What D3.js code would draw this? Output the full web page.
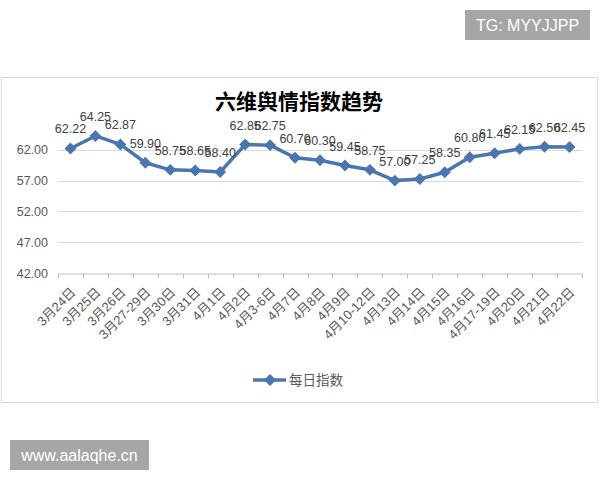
<!DOCTYPE html>
<html>
<head>
<meta charset="utf-8">
<script src="https://cdn.jsdelivr.net/npm/d3@7"></script>
<style>
  body { margin: 0; background: #fff; }
  svg text { font-family: "Liberation Sans", "Noto Sans CJK SC", sans-serif; }
</style>
</head>
<body>
<div id="chart"></div>
<script>
// 六维舆情指数 - daily values
const categories = ["3月24日", "3月25日", "3月26日", "3月27-29日", "3月30日", "3月31日", "4月1日",
    "4月2日", "4月3-6日", "4月7日", "4月8日", "4月9日", "4月10-12日", "4月13日", "4月14日",
    "4月15日", "4月16日", "4月17-19日", "4月20日", "4月21日", "4月22日"];
const values = [62.22, 64.25, 62.87, 59.90, 58.75, 58.65, 58.40, 62.85, 62.75, 60.70, 60.30,
    59.45, 58.75, 57.00, 57.25, 58.35, 60.80, 61.45, 62.15, 62.50, 62.45];
const yTicks = [42, 47, 52, 57, 62];
const seriesName = "每日指数";
const title = "六维舆情指数趋势";

function drawChart() {
    const W = 600, H = 480;
    const blue = "#4a76ae";

    let svg = d3.select("#chart")
        .append("svg")
        .attr("width", W)
        .attr("height", H);

    svg.append("rect").attr("width", W).attr("height", H).attr("fill", "#fff");

    // chart frame
    svg.append("rect")
        .attr("x", 1.5).attr("y", 77.5)
        .attr("width", 596).attr("height", 325)
        .attr("fill", "#fff")
        .attr("stroke", "#d9d9d9");

    let plot = {left: 58, right: 582, top: 119, bottom: 273};

    let x = d3.scaleBand()
        .domain(categories)
        .range([plot.left, plot.right]);

    let y = d3.scaleLinear()
        .domain([42, 67])
        .range([plot.bottom, plot.top]);

    // gridlines
    svg.append("g")
        .selectAll("line")
        .data(yTicks.slice(1))
        .enter()
        .append("line")
        .attr("x1", plot.left).attr("x2", plot.right)
        .attr("y1", d => Math.round(y(d)) + 0.5)
        .attr("y2", d => Math.round(y(d)) + 0.5)
        .attr("stroke", "#d9d9d9");

    // y axis labels
    svg.append("g")
        .selectAll("text")
        .data(yTicks)
        .enter()
        .append("text")
        .attr("x", 48)
        .attr("y", d => y(d) + 4.5)
        .attr("text-anchor", "end")
        .attr("font-size", "12.5px")
        .attr("fill", "#595959")
        .text(d => d3.format(".2f")(d));

    // x axis
    let xAxis = svg.append("g")
        .attr("transform", "translate(0," + (Math.round(y(42)) + 0.5) + ")")
        .call(d3.axisBottom(x).tickSize(0).tickFormat(""));
    xAxis.select(".domain").attr("stroke", "#bfbfbf");

    let bounds = categories.map(c => x(c)).concat([plot.right]);
    xAxis.selectAll(".sep")
        .data(bounds)
        .enter()
        .append("line")
        .attr("class", "sep")
        .attr("x1", d => Math.round(d) + 0.5).attr("x2", d => Math.round(d) + 0.5)
        .attr("y1", 0).attr("y2", 5)
        .attr("stroke", "#bfbfbf");

    svg.append("g")
        .selectAll("text")
        .data(categories)
        .enter()
        .append("text")
        .attr("transform", d => "translate(" + (x(d) + x.bandwidth() / 2 + 6) + "," + (y(42) + 20) + ") rotate(-45)")
        .attr("text-anchor", "end")
        .attr("font-size", "13px")
        .attr("fill", "#595959")
        .text(d => d);

    // line
    let cx = (d, i) => x(categories[i]) + x.bandwidth() / 2;
    let line = d3.line()
        .x((d, i) => cx(d, i))
        .y(d => y(d));

    svg.append("path")
        .datum(values)
        .attr("d", line)
        .attr("fill", "none")
        .attr("stroke", blue)
        .attr("stroke-width", 3.5)
        .attr("stroke-linejoin", "round");

    let diamond = d3.symbol().type(d3.symbolDiamond2).size(90);
    svg.append("g")
        .selectAll("path")
        .data(values)
        .enter()
        .append("path")
        .attr("d", diamond)
        .attr("transform", (d, i) => "translate(" + cx(d, i) + "," + y(d) + ")")
        .attr("fill", blue);

    // data labels
    svg.append("g")
        .selectAll("text")
        .data(values)
        .enter()
        .append("text")
        .attr("x", (d, i) => cx(d, i))
        .attr("y", d => y(d) - 15)
        .attr("text-anchor", "middle")
        .attr("font-size", "12.5px")
        .attr("fill", "#404040")
        .text(d => d3.format(".2f")(d));

    // title
    svg.append("text")
        .attr("x", 299).attr("y", 109)
        .attr("text-anchor", "middle")
        .attr("font-size", "21px")
        .attr("font-weight", "bold")
        .attr("fill", "#000")
        .style("font-family", "'Noto Sans CJK SC', sans-serif")
        .text(title);

    // legend
    let lg = svg.append("g").attr("transform", "translate(253,380)");
    lg.append("line")
        .attr("x1", 0).attr("x2", 33).attr("y1", 0).attr("y2", 0)
        .attr("stroke", blue).attr("stroke-width", 3.5);
    lg.append("path")
        .attr("d", diamond)
        .attr("transform", "translate(17,0)")
        .attr("fill", blue);
    lg.append("text")
        .attr("x", 36).attr("y", 5)
        .attr("font-size", "13.5px")
        .attr("fill", "#595959")
        .style("font-family", "'Noto Sans CJK SC', sans-serif")
        .text(seriesName);

    // watermarks
    svg.append("rect")
        .attr("x", 465).attr("y", 10).attr("width", 125).attr("height", 30)
        .attr("fill", "#a6a6a6");
    svg.append("text")
        .attr("x", 527.5).attr("y", 31)
        .attr("text-anchor", "middle")
        .attr("font-size", "16px")
        .attr("fill", "#fff")
        .text("TG: MYYJJPP");

    svg.append("rect")
        .attr("x", 10).attr("y", 440).attr("width", 139).attr("height", 30)
        .attr("fill", "#a6a6a6");
    svg.append("text")
        .attr("x", 79.5).attr("y", 461)
        .attr("text-anchor", "middle")
        .attr("font-size", "16px")
        .attr("fill", "#fff")
        .text("www.aalaqhe.cn");
}
drawChart();
</script>
</body>
</html>
